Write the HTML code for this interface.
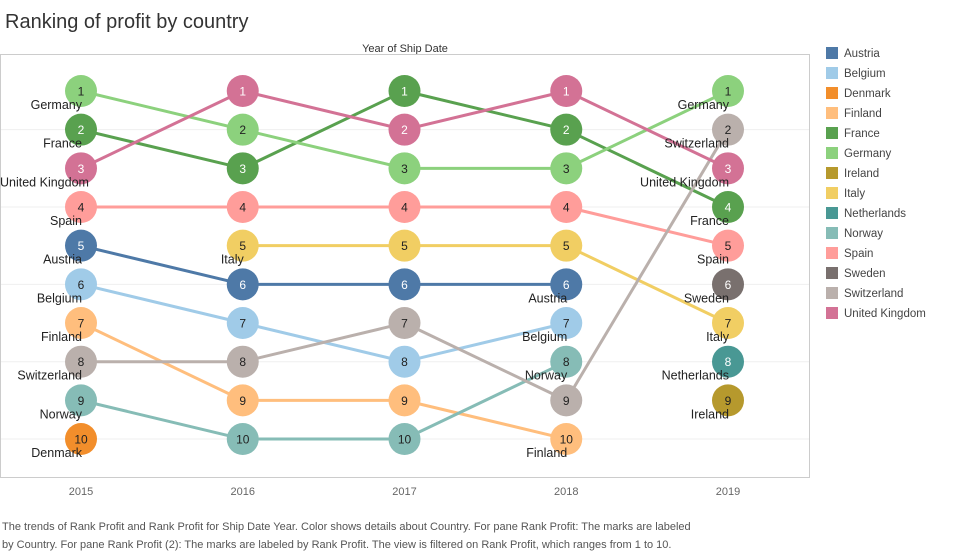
<!DOCTYPE html>
<html><head><meta charset="utf-8"><style>
body{margin:0;background:#fff;font-family:"Liberation Sans",sans-serif;}
svg text{font-family:"Liberation Sans",sans-serif;}
</style></head><body>
<svg id="c" width="962" height="554">
<text x="5" y="28" font-size="20" fill="#333">Ranking of profit by country</text>
<text x="405" y="52" font-size="11" fill="#333" text-anchor="middle">Year of Ship Date</text>
<rect x="0.5" y="54.5" width="809" height="423" fill="none" stroke="#ccc"/>
<g id="grid"></g><g id="lines"></g><g id="dots"></g><g id="labels"></g><g id="xaxis"></g><g id="legend"></g>
<text x="2" y="530" font-size="11" fill="#555">The trends of Rank Profit and Rank Profit for Ship Date Year.  Color shows details about Country.  For pane Rank Profit:  The marks are labeled</text>
<text x="2" y="548" font-size="11" fill="#555">by Country.  For pane Rank Profit (2):  The marks are labeled by Rank Profit. The view is filtered on Rank Profit, which ranges from 1 to 10.</text>
</svg>
<script>
const years=[2015,2016,2017,2018,2019];
const countries=["Austria","Belgium","Denmark","Finland","France","Germany","Ireland","Italy","Netherlands","Norway","Spain","Sweden","Switzerland","United Kingdom"];
const colors=["#4e79a7","#a0cbe8","#f28e2b","#ffbe7d","#59a14f","#8cd17d","#b6992d","#f1ce63","#499894","#86bcb6","#ff9d9a","#79706e","#bab0ac","#d37295"];
const darkText=[false,true,true,true,false,true,true,true,false,true,true,false,true,false];
// ranks per year (null = not in top 10)
const rankAustria=[5,6,6,6,null];
const rankBelgium=[6,7,8,7,null];
const rankDenmark=[10,null,null,null,null];
const rankFinland=[7,9,9,10,null];
const rankFrance=[2,3,1,2,4];
const rankGermany=[1,2,3,3,1];
const rankIreland=[null,null,null,null,9];
const rankItaly=[null,5,5,5,7];
const rankNetherlands=[null,null,null,null,8];
const rankNorway=[9,10,10,8,null];
const rankSpain=[4,4,4,4,5];
const rankSweden=[null,null,null,null,6];
const rankSwitzerland=[8,8,7,9,2];
const rankUK=[3,1,2,1,3];
const ranks=[rankAustria,rankBelgium,rankDenmark,rankFinland,rankFrance,rankGermany,rankIreland,rankItaly,rankNetherlands,rankNorway,rankSpain,rankSweden,rankSwitzerland,rankUK];
// which year indices show country labels
const labelShown=[[0,3],[0,3],[0],[0,3],[0,4],[0,4],[4],[1,4],[4],[0,3],[0,4],[4],[0,4],[0,4]];
const gridRanks=[2,4,6,8,10];

const NS="http://www.w3.org/2000/svg";
const xS=i=>81+i*161.75;
const yS=r=>91+(r-1)*38.67;
function mk(tag,attrs,parent){const e=document.createElementNS(NS,tag);for(const k in attrs)e.setAttribute(k,attrs[k]);document.getElementById(parent).appendChild(e);return e;}

gridRanks.forEach(r=>{
  const l=mk('line',{x1:1,x2:809,y1:yS(r),y2:yS(r),stroke:'#efefef'},'grid');
  
  
});
years.forEach((y,i)=>{
  const t=mk('text',{x:xS(i),y:495,'font-size':11,fill:'#666','text-anchor':'middle'},'xaxis');
  t.textContent=y;
  
  
});
countries.forEach((c,ci)=>{
  const r=ranks[ci];
  for(let i=0;i<r.length-1;i++){
    if(r[i]!=null&&r[i+1]!=null){
      const l=mk('line',{x1:xS(i),y1:yS(r[i]),x2:xS(i+1),y2:yS(r[i+1]),stroke:colors[ci],'stroke-width':3},'lines');
      
      
    }
  }
});
countries.forEach((c,ci)=>{
  const r=ranks[ci];
  r.forEach((v,i)=>{
    if(v==null)return;
    const d=mk('circle',{cx:xS(i),cy:yS(v),r:16,fill:colors[ci]},'dots');
    
    
    const t=mk('text',{x:xS(i),y:yS(v)+4.5,'font-size':12,'text-anchor':'middle',fill:darkText[ci]?'#222':'#fff'},'dots');
    t.textContent=v;
    
    
  });
  labelShown[ci].forEach(i=>{
    if(r[i]==null)return;
    const t=mk('text',{x:xS(i)+1,y:yS(r[i])+18,'font-size':12.5,'text-anchor':'end',fill:'#222'},'labels');
    t.textContent=c;
    
    
    const w=t.getComputedTextLength();
    if(xS(i)+1-w<0)t.setAttribute('x',w);
  });
  const ly=53+ci*20;
  const sw=mk('rect',{x:826,y:ly-6,width:12,height:12,fill:colors[ci]},'legend');
  
  
  const lt=mk('text',{x:844,y:ly+4,'font-size':11.5,fill:'#444'},'legend');
  lt.textContent=c;
  
  
});
</script>
</body></html>
